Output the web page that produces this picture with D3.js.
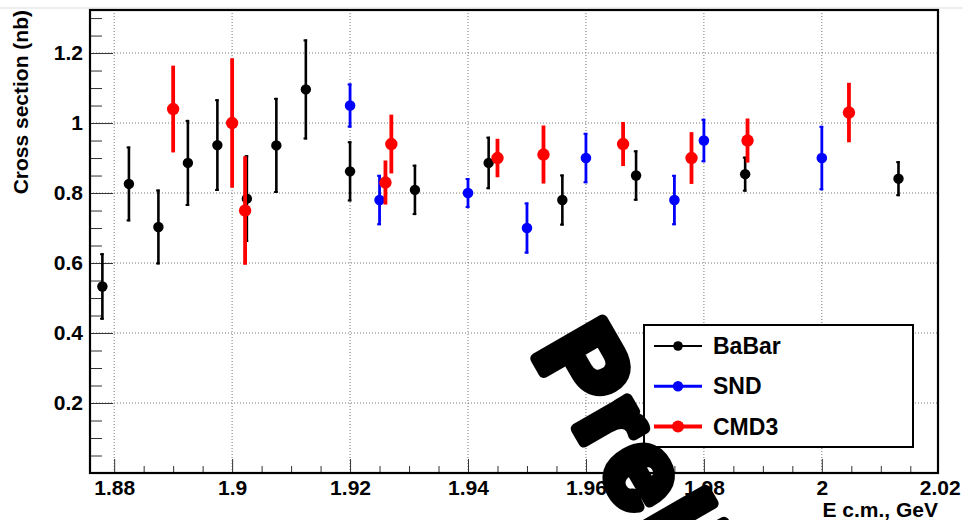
<!DOCTYPE html>
<html>
<head>
<meta charset="utf-8">
<script src="https://cdn.jsdelivr.net/npm/d3@7"></script>
<style>
  body { margin: 0; background: #fff; }
  text { font-family: "Liberation Sans", Arial, Helvetica, sans-serif; font-weight: bold; }
</style>
</head>
<body>
<div id="chart"></div>
<script>
var width = 963,
    height = 520;

// BaBar
var babarE = [1.878, 1.8825, 1.8875, 1.8925, 1.8975, 1.9025, 1.9075, 1.9125, 1.92, 1.931, 1.9435, 1.956, 1.9685, 1.987, 2.013];
var babarXs = [0.533, 0.826, 0.703, 0.886, 0.937, 0.784, 0.936, 1.096, 0.862, 0.809, 0.886, 0.780, 0.850, 0.854, 0.841];
var babarErr = [0.095, 0.107, 0.107, 0.123, 0.131, 0.124, 0.136, 0.143, 0.086, 0.072, 0.075, 0.073, 0.072, 0.050, 0.050];

// SND
var sndE = [1.92, 1.925, 1.94, 1.95, 1.96, 1.975, 1.98, 2.0];
var sndXs = [1.05, 0.78, 0.80, 0.70, 0.90, 0.78, 0.95, 0.90];
var sndErr = [0.063, 0.072, 0.043, 0.073, 0.072, 0.072, 0.062, 0.092];

// CMD3
var cmdE = [1.89, 1.9, 1.9022, 1.926, 1.927, 1.945, 1.9528, 1.9663, 1.9779, 1.9874, 2.0046];
var cmdXs = [1.04, 1.00, 0.75, 0.83, 0.94, 0.90, 0.91, 0.94, 0.90, 0.95, 1.03];
var cmdErr = [0.124, 0.185, 0.155, 0.063, 0.084, 0.055, 0.083, 0.063, 0.074, 0.063, 0.085];

var xTicks = [1.88, 1.9, 1.92, 1.94, 1.96, 1.98, 2.0, 2.02];
var xTickLabels = ["1.88", "1.9", "1.92", "1.94", "1.96", "1.98", "2", "2.02"];
var yTicks = [0.2, 0.4, 0.6, 0.8, 1.0, 1.2];
var yTickLabels = ["0.2", "0.4", "0.6", "0.8", "1", "1.2"];

var seriesNames = ["BaBar", "SND", "CMD3"];

var padLeft = 90, padRight = 938, padTop = 10, padBottom = 473;

var x = d3.scaleLinear().domain([1.8759, 2.0197]).range([padLeft, padRight]);
var y = d3.scaleLinear().domain([0, 1.323]).range([padBottom, padTop]);

var svg = d3.select("#chart")
    .append("svg")
    .attr("width", width)
    .attr("height", height)
    .style("display", "block");

svg.append("rect").attr("width", width).attr("height", height).attr("fill", "#fff");

// grid
var xGrid = xTicks.filter(function(d) { return x(d) < padRight - 1; });
svg.append("g").selectAll("line")
    .data(xGrid)
    .enter().append("line")
      .attr("x1", function(d) { return x(d); })
      .attr("x2", function(d) { return x(d); })
      .attr("y1", padTop)
      .attr("y2", padBottom)
      .attr("stroke", "#777")
      .attr("stroke-width", 1)
      .attr("stroke-dasharray", "1,2");

svg.append("g").selectAll("line")
    .data(yTicks)
    .enter().append("line")
      .attr("x1", padLeft)
      .attr("x2", padRight)
      .attr("y1", function(d) { return y(d); })
      .attr("y2", function(d) { return y(d); })
      .attr("stroke", "#777")
      .attr("stroke-width", 1)
      .attr("stroke-dasharray", "1,2");

// minor ticks
var xMinor = d3.range(1.885, 2.02, 0.005).filter(function(d) {
  return Math.abs(Math.round(d * 50) - d * 50) > 0.01 && x(d) < padRight;
});
var yMinor = d3.range(0.05, 1.32, 0.05).filter(function(d) {
  return Math.abs(Math.round(d * 5) - d * 5) > 0.01;
});

svg.append("g")
    .attr("transform", "translate(0," + padBottom + ")")
    .call(d3.axisBottom(x).tickValues(xMinor).tickSize(-7).tickFormat(""))
    .call(function(g) { g.select(".domain").remove(); g.selectAll("line").attr("stroke", "#333"); });

svg.append("g")
    .attr("transform", "translate(" + padLeft + ",0)")
    .call(d3.axisLeft(y).tickValues(yMinor).tickSize(-12).tickFormat(""))
    .call(function(g) { g.select(".domain").remove(); g.selectAll("line").attr("stroke", "#333"); });

// major ticks with labels
var xAxis = svg.append("g")
    .attr("transform", "translate(0," + padBottom + ")")
    .call(d3.axisBottom(x).tickValues(xTicks).tickSize(-14).tickPadding(7)
      .tickFormat(function(d, i) { return xTickLabels[i]; }));
xAxis.select(".domain").remove();
xAxis.selectAll("line").attr("stroke", "#333")
    .filter(function(d) { return x(d) > padRight - 1; }).remove();
xAxis.selectAll("text").attr("font-size", 21).attr("fill", "#000")
    .attr("font-family", "Liberation Sans, Arial, sans-serif");

var yAxis = svg.append("g")
    .attr("transform", "translate(" + padLeft + ",0)")
    .call(d3.axisLeft(y).tickValues(yTicks).tickSize(-23).tickPadding(7)
      .tickFormat(function(d, i) { return yTickLabels[i]; }));
yAxis.select(".domain").remove();
yAxis.selectAll("line").attr("stroke", "#333");
yAxis.selectAll("text").attr("font-size", 21).attr("fill", "#000")
    .attr("font-family", "Liberation Sans, Arial, sans-serif");

// frame
svg.append("line").attr("x1", 0).attr("x2", width).attr("y1", 8).attr("y2", 8)
    .attr("stroke", "#ddd").attr("stroke-width", 1);
svg.append("rect")
    .attr("x", padLeft).attr("y", padTop)
    .attr("width", padRight - padLeft).attr("height", padBottom - padTop)
    .attr("fill", "none").attr("stroke", "#000").attr("stroke-width", 2.2);

// axis titles
svg.append("text")
    .attr("transform", "translate(28," + padTop + ") rotate(-90)")
    .attr("text-anchor", "end")
    .attr("font-size", 21)
    .text("Cross section (nb)");

svg.append("text")
    .attr("x", padRight)
    .attr("y", 517)
    .attr("text-anchor", "end")
    .attr("font-size", 21)
    .text("E c.m., GeV");

// data
function drawSeries(es, vs, errs, color, r, lw, cap) {
  var data = es.map(function(e, i) { return {e: e, v: vs[i], err: errs[i]}; });
  var g = svg.append("g");
  var node = g.selectAll(".pt")
    .data(data)
    .enter().append("g")
      .attr("class", "pt");

  node.append("line")
      .attr("x1", function(d) { return x(d.e); })
      .attr("x2", function(d) { return x(d.e); })
      .attr("y1", function(d) { return y(d.v + d.err); })
      .attr("y2", function(d) { return y(d.v - d.err); })
      .attr("stroke", color)
      .attr("stroke-width", lw);

  if (cap) {
    [1, -1].forEach(function(s) {
      node.append("line")
          .attr("x1", function(d) { return x(d.e) - lw / 2 - 1; })
          .attr("x2", function(d) { return x(d.e) + lw / 2; })
          .attr("y1", function(d) { return y(d.v + s * d.err) + s; })
          .attr("y2", function(d) { return y(d.v + s * d.err) + s; })
          .attr("stroke", color)
          .attr("stroke-width", 2);
    });
  }

  node.append("circle")
      .attr("cx", function(d) { return x(d.e); })
      .attr("cy", function(d) { return y(d.v); })
      .attr("r", r)
      .attr("fill", color);
}

drawSeries(babarE, babarXs, babarErr, "#000", 5.2, 2.6, true);
drawSeries(sndE, sndXs, sndErr, "#0000ff", 5.3, 2.8, true);
drawSeries(cmdE, cmdXs, cmdErr, "#ff0000", 6.2, 3.8, false);

// legend
var legend = svg.append("g");
legend.append("rect")
    .attr("x", 644).attr("y", 325)
    .attr("width", 269).attr("height", 122)
    .attr("fill", "#fff")
    .attr("stroke", "#000")
    .attr("stroke-width", 2);

var legColors = ["#000", "#0000ff", "#ff0000"];
var legR = [4.8, 5.2, 6];
var legLw = [2, 3, 4];

var item = legend.selectAll(".item")
    .data(seriesNames)
    .enter().append("g")
      .attr("class", "item")
      .attr("transform", function(d, i) { return "translate(0," + (346 + i * 40.3) + ")"; });

item.append("line")
    .attr("x1", 654).attr("x2", 702)
    .attr("stroke", function(d, i) { return legColors[i]; })
    .attr("stroke-width", function(d, i) { return legLw[i]; });
item.append("circle")
    .attr("cx", 678)
    .attr("r", function(d, i) { return legR[i]; })
    .attr("fill", function(d, i) { return legColors[i]; });
item.append("text")
    .attr("x", 713)
    .attr("y", 8)
    .attr("font-size", 23)
    .text(function(d) { return d; });

// watermark
svg.append("text")
    .attr("transform", "translate(532,352) rotate(60)")
    .attr("font-size", 112)
    .attr("font-weight", "normal")
    .attr("fill", "#000")
    .attr("stroke", "#000")
    .attr("stroke-width", 11)
    .attr("stroke-linejoin", "round")
    .attr("stroke-linecap", "round")
    .attr("letter-spacing", 6)
    .text("Preliminary");
</script>
</body>
</html>
